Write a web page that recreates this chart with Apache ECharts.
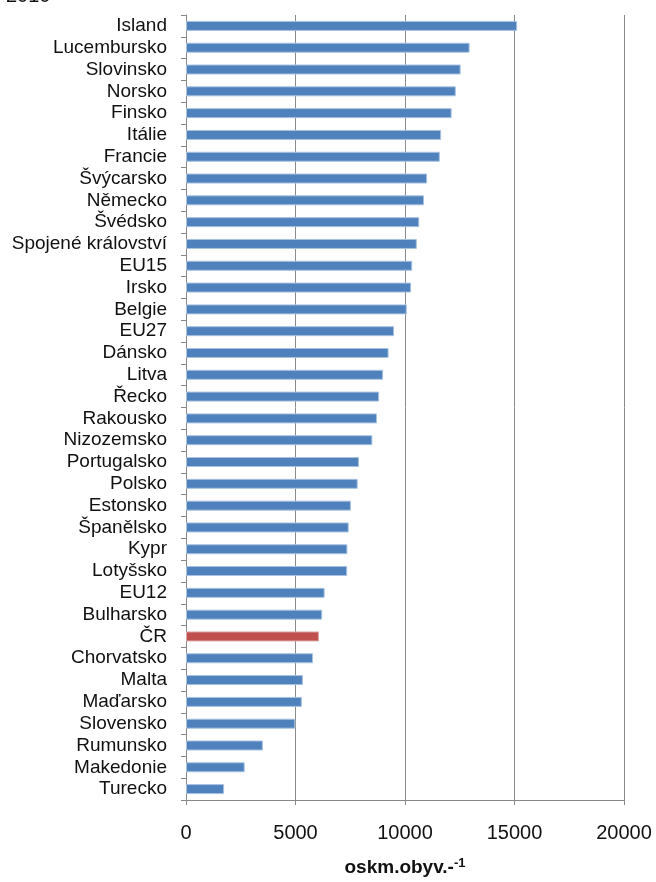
<!DOCTYPE html>
<html>
<head>
<meta charset="utf-8">
<script src="https://cdn.jsdelivr.net/npm/echarts@6/dist/echarts.min.js"></script>
<style>
  html, body { margin: 0; padding: 0; background: #fff; }
  #main { width: 656px; height: 882px; }
</style>
</head>
<body>
<div id="main"></div>
<script>
// kategorie shora dolu
var countries = ['Island', 'Lucembursko', 'Slovinsko', 'Norsko', 'Finsko', 'Itálie', 'Francie',
  'Švýcarsko', 'Německo', 'Švédsko', 'Spojené království', 'EU15', 'Irsko', 'Belgie', 'EU27',
  'Dánsko', 'Litva', 'Řecko', 'Rakousko', 'Nizozemsko', 'Portugalsko', 'Polsko', 'Estonsko',
  'Španělsko', 'Kypr', 'Lotyšsko', 'EU12', 'Bulharsko', 'ČR', 'Chorvatsko', 'Malta', 'Maďarsko',
  'Slovensko', 'Rumunsko', 'Makedonie', 'Turecko'];

// oskm.obyv.-1
var values = [15120, 12950, 12540, 12320, 12130, 11650, 11590, 11010, 10870, 10650, 10540, 10330,
  10280, 10080, 9500, 9250, 9000, 8820, 8720, 8510, 7900, 7840, 7530, 7430, 7370, 7360, 6330,
  6220, 6070, 5800, 5340, 5290, 4990, 3510, 2680, 1740];

var highlighted = 'ČR';
var xTicks = [0, 5000, 10000, 15000, 20000];

var myChart = echarts.init(document.getElementById('main'));

var option = {
    animation: false,
    textStyle: { fontFamily: 'Liberation Sans, Arial, sans-serif', color: '#111' },
    graphic: [{
        type: 'text',
        x: 6,
        y: -14,
        style: { text: '2010', fontSize: 20, fill: '#111', fontFamily: 'Liberation Sans' }
    }],
    grid: { left: 186, right: 32, top: 15, bottom: 75 },
    xAxis: {
        type: 'value',
        min: xTicks[0],
        max: xTicks[xTicks.length - 1],
        interval: 5000,
        axisLine: { show: true, lineStyle: { color: '#888', width: 1 } },
        axisTick: { show: true, length: 5, lineStyle: { color: '#888' } },
        axisLabel: {
            fontSize: 20, color: '#111', margin: 23,
            formatter: function (v) { return String(v); }
        },
        splitLine: { show: true, lineStyle: { color: '#8a8a8a', width: 1 } },
        name: 'oskm.obyv.-{sup|-1}',
        nameLocation: 'middle',
        nameGap: 57,
        nameTextStyle: {
            fontSize: 19,
            fontWeight: 'bold',
            color: '#111',
            rich: { sup: { fontSize: 13, fontWeight: 'bold', verticalAlign: 'top', padding: [0, 0, 8, 0] } }
        }
    },
    yAxis: {
        type: 'category',
        data: countries,
        inverse: true,
        axisLine: { show: true, lineStyle: { color: '#888', width: 1 } },
        axisTick: { show: true, length: 5, alignWithLabel: false, lineStyle: { color: '#888' } },
        axisLabel: { fontSize: 19, color: '#111', margin: 19, interval: 0 },
        splitLine: { show: false }
    },
    series: [{
        type: 'bar',
        barWidth: 10,
        data: values.map(function (v, i) {
            var isCR = countries[i] === highlighted;
            return {
                value: v,
                itemStyle: {
                    color: isCR ? '#C0504D' : '#4F81BD',
                    borderColor: isCR ? '#dca9a8' : '#aac2e0',
                    borderWidth: 1
                }
            };
        })
    }]
};

myChart.setOption(option);
</script>
</body>
</html>
